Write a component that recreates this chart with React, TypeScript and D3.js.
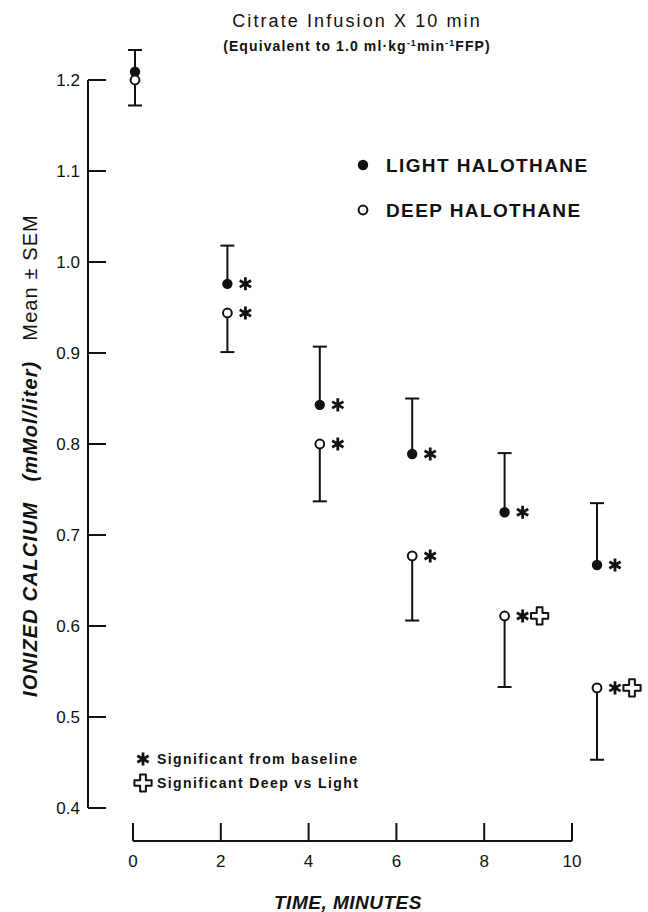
import * as d3 from "d3";

// values
const minutes = [0, 2, 4, 6, 8, 10];
const lightMean = [1.209, 0.976, 0.843, 0.789, 0.725, 0.667];
const lightSem = [0.024, 0.042, 0.064, 0.061, 0.065, 0.068];
const deepMean = [1.2, 0.944, 0.8, 0.677, 0.611, 0.532];
const deepSem = [0.028, 0.043, 0.063, 0.071, 0.078, 0.079];
const sigBaseline = [false, true, true, true, true, true];
const sigDeepVsLight = [false, false, false, false, true, true];
const yTicks = [0.4, 0.5, 0.6, 0.7, 0.8, 0.9, 1.0, 1.1, 1.2];
const xTicks = [0, 2, 4, 6, 8, 10];

const font = "'Liberation Sans', Arial, Helvetica, sans-serif";
const ink = "#111";

export default function App() {
  const y = d3.scaleLinear().domain([0.4, 1.2]).range([808, 80]);
  // the axis and the plotted points are not quite on the same scale in the original
  const xAxis = d3.scaleLinear().domain([0, 10]).range([133, 572]);
  const xPt = d3.scaleLinear().domain([0, 10]).range([135, 597]);

  const star = d3.symbol().type(d3.symbolAsterisk).size(120)();
  const cross = d3.symbol().type(d3.symbolCross).size(165)();

  const axisLeft = 88;
  const axisBottom = 841;

  const errorBar = (x: number, from: number, to: number, key: string) => (
    <g key={key} stroke={ink} strokeWidth={2}>
      <line x1={x} x2={x} y1={y(from)} y2={y(to)} />
      <line x1={x - 7} x2={x + 7} y1={y(to)} y2={y(to)} />
    </g>
  );

  return (
    <svg width={648} height={912} style={{ position: "absolute", left: 0, top: 0, background: "#fff" }} fontFamily={font}>
      <rect width={648} height={912} fill="#fff" />

      {/* title */}
      <text x={357} y={27} textAnchor="middle" fontSize={18} letterSpacing={2.1} fill={ink}>
        Citrate Infusion X 10 min
      </text>
      <text x={357} y={51} textAnchor="middle" fontSize={14} fontWeight="bold" letterSpacing={1.1} fill={ink}>
        (Equivalent to 1.0 ml·kg
        <tspan fontSize={9} dy={-5}>-1</tspan>
        <tspan dy={5}>min</tspan>
        <tspan fontSize={9} dy={-5}>-1</tspan>
        <tspan dy={5}>FFP)</tspan>
      </text>

      {/* y axis */}
      <line x1={axisLeft} x2={axisLeft} y1={y(1.2)} y2={y(0.4)} stroke={ink} strokeWidth={2} />
      {yTicks.map((t) => (
        <g key={t}>
          <line x1={axisLeft} x2={axisLeft + 18} y1={y(t)} y2={y(t)} stroke={ink} strokeWidth={2} />
          <text x={80} y={y(t) + 6} textAnchor="end" fontSize={17} fill={ink}>
            {t.toFixed(1)}
          </text>
        </g>
      ))}

      {/* x axis */}
      <line x1={xAxis(0)} x2={xAxis(10)} y1={axisBottom} y2={axisBottom} stroke={ink} strokeWidth={2} />
      {xTicks.map((t) => (
        <g key={t}>
          <line x1={xAxis(t)} x2={xAxis(t)} y1={axisBottom} y2={axisBottom - 18} stroke={ink} strokeWidth={2} />
          <text x={xAxis(t)} y={axisBottom + 26} textAnchor="middle" fontSize={17} fill={ink}>
            {t}
          </text>
        </g>
      ))}
      <text x={348} y={909} textAnchor="middle" fontSize={19} fontWeight="bold" fontStyle="italic" letterSpacing={0.5} fill={ink}>
        TIME, MINUTES
      </text>

      {/* y title */}
      <text transform="translate(37,697) rotate(-90)" fontSize={20} fill={ink} letterSpacing={1.1}>
        <tspan fontWeight="bold" fontStyle="italic">IONIZED CALCIUM</tspan>
        <tspan dx={20} fontWeight="bold" fontStyle="italic">(mMol/liter)</tspan>
        <tspan dx={20}>Mean </tspan>
        <tspan>±</tspan>
        <tspan> SEM</tspan>
      </text>

      {/* error bars */}
      {minutes.map((m, i) => errorBar(xPt(m), lightMean[i], lightMean[i] + lightSem[i], "l" + m))}
      {minutes.map((m, i) => errorBar(xPt(m), deepMean[i], deepMean[i] - deepSem[i], "d" + m))}

      {/* points */}
      {minutes.map((m, i) => (
        <circle key={"lp" + m} cx={xPt(m)} cy={y(lightMean[i])} r={5.2} fill={ink} />
      ))}
      {minutes.map((m, i) => (
        <circle key={"dp" + m} cx={xPt(m)} cy={y(deepMean[i])} r={4.4} fill="#fff" stroke={ink} strokeWidth={2} />
      ))}

      {/* significance marks */}
      {minutes.map((m, i) =>
        sigBaseline[i] ? (
          <g key={"s" + m} stroke={ink} strokeWidth={2.8}>
            <path d={star} transform={`translate(${xPt(m) + 18},${y(lightMean[i])})`} />
            <path d={star} transform={`translate(${xPt(m) + 18},${y(deepMean[i])})`} />
          </g>
        ) : null
      )}
      {minutes.map((m, i) =>
        sigDeepVsLight[i] ? (
          <path key={"c" + m} d={cross} transform={`translate(${xPt(m) + 35},${y(deepMean[i])})`} fill="#fff" stroke={ink} strokeWidth={2} strokeLinejoin="round" />
        ) : null
      )}

      {/* group legend */}
      <circle cx={363} cy={165} r={5.2} fill={ink} />
      <text x={386} y={172} fontSize={19} fontWeight="bold" letterSpacing={1.4} fill={ink}>
        LIGHT HALOTHANE
      </text>
      <circle cx={363} cy={210} r={4.4} fill="#fff" stroke={ink} strokeWidth={2} />
      <text x={386} y={217} fontSize={19} fontWeight="bold" letterSpacing={1.4} fill={ink}>
        DEEP HALOTHANE
      </text>

      {/* significance legend */}
      <path d={star} transform="translate(143,759)" stroke={ink} strokeWidth={2.8} />
      <text x={157} y={764} fontSize={14} fontWeight="bold" letterSpacing={1.4} fill={ink}>
        Significant from baseline
      </text>
      <path d={cross} transform="translate(143,783)" fill="#fff" stroke={ink} strokeWidth={2} strokeLinejoin="round" />
      <text x={157} y={788} fontSize={14} fontWeight="bold" letterSpacing={1.4} fill={ink}>
        Significant Deep vs Light
      </text>
    </svg>
  );
}
